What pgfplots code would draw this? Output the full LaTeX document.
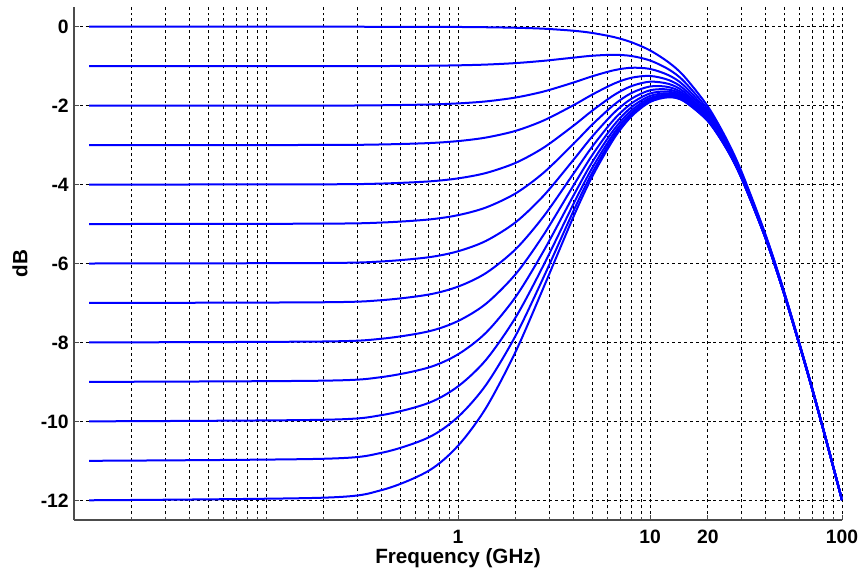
\documentclass[border=0pt]{standalone}
\usepackage{pgfplots}
\usepackage{pgfplotstable}
\pgfplotsset{compat=1.18}
\usepackage{fontspec}
\setmainfont{Liberation Sans}

\pgfplotstableread{
f      k0      k1      k2      k3      k4      k5      k6      k7      k8      k9      k10     k11     k12
0.012  0       -1      -2      -3      -4      -5      -6      -7      -8      -9      -10     -11     -12
0.2    0.000   -1.000  -1.998  -2.996  -3.993  -4.990  -5.987  -6.982  -7.976  -8.969  -9.960  -10.948 -11.934
0.4    -0.001  -0.996  -1.990  -2.983  -3.974  -4.962  -5.948  -6.929  -7.906  -8.878  -9.842  -10.797 -11.742
0.7    -0.003  -0.989  -1.971  -2.949  -3.921  -4.886  -5.843  -6.789  -7.722  -8.639  -9.537  -10.412 -11.259
1      -0.006  -0.978  -1.943  -2.898  -3.843  -4.775  -5.690  -6.586  -7.458  -8.302  -9.114  -9.888  -10.619
1.4    -0.013  -0.959  -1.892  -2.808  -3.706  -4.580  -5.426  -6.241  -7.018  -7.752  -8.440  -9.075  -9.657
2      -0.026  -0.921  -1.793  -2.637  -3.448  -4.221  -4.951  -5.633  -6.264  -6.840  -7.358  -7.820  -8.225
2.8    -0.050  -0.863  -1.640  -2.373  -3.060  -3.694  -4.275  -4.798  -5.264  -5.673  -6.028  -6.332  -6.590
4      -0.102  -0.783  -1.413  -1.987  -2.505  -2.965  -3.369  -3.719  -4.019  -4.272  -4.485  -4.661  -4.807
5      -0.158  -0.735  -1.256  -1.720  -2.128  -2.481  -2.783  -3.040  -3.254  -3.433  -3.580  -3.701  -3.799
6.5    -0.263  -0.711  -1.102  -1.441  -1.730  -1.975  -2.179  -2.348  -2.488  -2.602  -2.694  -2.770  -2.830
8      -0.393  -0.742  -1.040  -1.293  -1.505  -1.681  -1.826  -1.944  -2.041  -2.120  -2.183  -2.234  -2.274
10     -0.599  -0.855  -1.069  -1.247  -1.393  -1.514  -1.611  -1.691  -1.755  -1.807  -1.848  -1.881  -1.908
12.5   -0.903  -1.080  -1.229  -1.350  -1.449  -1.529  -1.594  -1.646  -1.689  -1.722  -1.749  -1.771  -1.788
15     -1.247  -1.379  -1.487  -1.575  -1.646  -1.704  -1.749  -1.786  -1.816  -1.840  -1.859  -1.874  -1.885
20     -2.019  -2.098  -2.162  -2.213  -2.254  -2.287  -2.314  -2.335  -2.352  -2.365  -2.376  -2.384  -2.391
25     -2.844  -2.896  -2.938  -2.971  -2.998  -3.019  -3.036  -3.050  -3.061  -3.070  -3.077  -3.082  -3.086
30     -3.676  -3.712  -3.742  -3.765  -3.784  -3.799  -3.811  -3.821  -3.828  -3.834  -3.839  -3.843  -3.846
40     -5.272  -5.293  -5.309  -5.323  -5.333  -5.342  -5.349  -5.354  -5.358  -5.362  -5.364  -5.366  -5.368
50     -6.719  -6.733  -6.743  -6.752  -6.759  -6.765  -6.769  -6.772  -6.775  -6.777  -6.779  -6.780  -6.781
65     -8.603  -8.611  -8.618  -8.623  -8.627  -8.630  -8.633  -8.635  -8.636  -8.638  -8.639  -8.640  -8.640
80     -10.199 -10.204 -10.209 -10.212 -10.215 -10.217 -10.218 -10.220 -10.221 -10.222 -10.222 -10.223 -10.224
100    -11.984 -11.986 -11.989 -11.991 -11.993 -11.995 -11.995 -11.997 -11.997 -11.998 -11.998 -11.999 -11.999
}\curves

\definecolor{curveblue}{RGB}{0,0,255}
\tikzset{crv/.style={curveblue, solid, line width=1.5pt, smooth, mark=none}}

\begin{document}
\begin{tikzpicture}
\begin{axis}[
  scale only axis,
  width=576pt, height=384.75pt,
  xmode=log,
  xmin=0.01, xmax=100,
  ymin=-12.5, ymax=0.5,
  axis x line*=bottom, axis y line*=left,
  axis line style={black!70, line width=0.8pt},
  xtick={1,10,20,100}, xticklabels={1,10,20,100},
  minor xtick={0.02,0.03,0.04,0.05,0.06,0.07,0.08,0.09,0.1,0.2,0.3,0.4,0.5,0.6,0.7,0.8,0.9,2,3,4,5,6,7,8,9,30,40,50,60,70,80,90},
  ytick={-12,-10,-8,-6,-4,-2,0},
  yticklabels={-12,-10,-8,-6,-4,-2,0},
  tick align=inside,
  major tick length=4pt, minor tick length=2.5pt,
  tick style={black!70, line width=0.6pt},
  xmajorgrids, xminorgrids, ymajorgrids,
  major grid style={black, line width=0.6pt, dash pattern=on 2.2pt off 2.2pt},
  minor grid style={black, line width=0.6pt, dash pattern=on 2.2pt off 2.2pt},
  ticklabel style={font=\fontsize{14.5}{17}\selectfont\bfseries},
  xticklabel style={anchor=base, yshift=-17.25pt},
  yticklabel style={inner xsep=3.75pt},
  xlabel={Frequency (GHz)},
  ylabel={dB},
  xlabel style={at={(rel axis cs:0.5,0)}, anchor=base, yshift=-32.25pt, font=\fontsize{15.5}{18}\selectfont\bfseries},
  ylabel style={at={([xshift=-40.5pt]rel axis cs:0,0.5)}, anchor=center, font=\fontsize{15.5}{18}\selectfont\bfseries},
]
\addplot[crv] table[x=f, y=k0] {\curves};
\addplot[crv] table[x=f, y=k1] {\curves};
\addplot[crv] table[x=f, y=k2] {\curves};
\addplot[crv] table[x=f, y=k3] {\curves};
\addplot[crv] table[x=f, y=k4] {\curves};
\addplot[crv] table[x=f, y=k5] {\curves};
\addplot[crv] table[x=f, y=k6] {\curves};
\addplot[crv] table[x=f, y=k7] {\curves};
\addplot[crv] table[x=f, y=k8] {\curves};
\addplot[crv] table[x=f, y=k9] {\curves};
\addplot[crv] table[x=f, y=k10] {\curves};
\addplot[crv] table[x=f, y=k11] {\curves};
\addplot[crv] table[x=f, y=k12] {\curves};
\coordinate (ll) at (rel axis cs:0,0);
\coordinate (ur) at (rel axis cs:1,1);
\end{axis}
\pgfresetboundingbox
\path ([shift={(-55.5pt,-42pt)}]ll) rectangle ([shift={(14.25pt,5.25pt)}]ur);
\end{tikzpicture}
\end{document}
